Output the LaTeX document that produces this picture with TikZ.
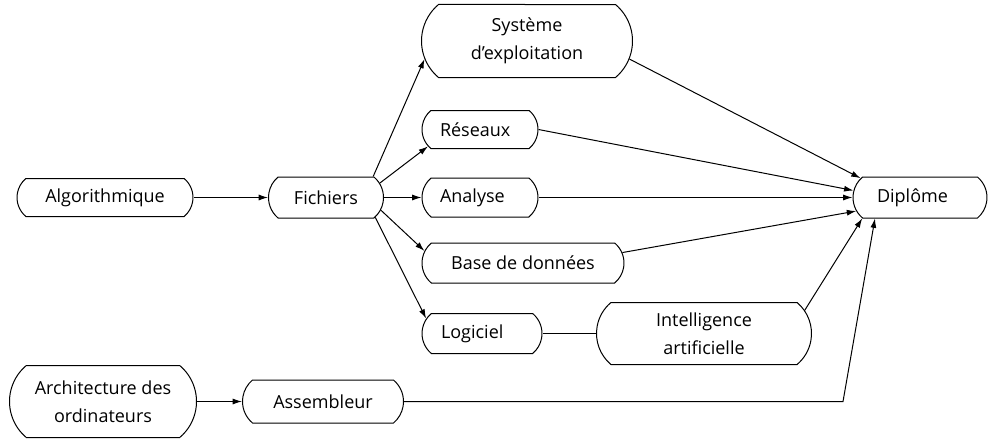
\documentclass[tikz,border=0pt]{standalone}
\usepackage{fontspec}
\setmainfont{Open Sans}
\usetikzlibrary{shapes.misc,arrows.meta,calc}
\begin{document}
\begin{tikzpicture}[x=0.75pt,y=0.75pt,
  box/.style={rounded rectangle, rounded rectangle arc length=100, draw, line width=0.75pt,
    inner xsep=0pt, inner ysep=0pt, font=\fontsize{13.5}{21}\selectfont, align=center},
  lbox/.style={box, align=left, text width=#1},
  arr/.style={line width=0.75pt,-{Latex[length=7pt,width=4.5pt]}},
  ln/.style={line width=0.75pt}]
\useasboundingbox (0,0) rectangle (988,-439);
\node[box, minimum width=132pt, minimum height=28.5pt] (alg) at (105,-197.5) {Algorithmique};
\node[box, minimum width=86.25pt, minimum height=30.75pt] (fich) at (326,-197.5) {Fichiers};
\node[box, minimum width=158.25pt, minimum height=54.75pt] (sys) at (527,-41) {Système\\d'exploitation};
\node[lbox=60pt, minimum width=87pt, minimum height=28.5pt] (res) at (480,-129.5) {Réseaux};
\node[lbox=60pt, minimum width=87pt, minimum height=29.25pt] (ana) at (480,-197.5) {Analyse};
\node[box, minimum width=151.5pt, minimum height=30pt] (bdd) at (523,-263) {Base de données};
\node[lbox=61.5pt, minimum width=90pt, minimum height=30pt] (log) at (482,-333.5) {Logiciel};
\node[box, minimum width=161.25pt, minimum height=46.5pt] (ia) at (704,-333.5) {Intelligence\\artificielle};
\node[lbox=64.5pt, minimum width=100.5pt, minimum height=30.75pt] (dip) at (920,-197.5) {Diplôme};
\node[box, minimum width=140.25pt, minimum height=54pt] (arch) at (103,-401.5) {Architecture des\\ordinateurs};
\node[box, minimum width=120.75pt, minimum height=32.25pt] (asm) at (323,-401.5) {Assembleur};
\coordinate (bend) at (843,-401.5);

\draw[arr] (alg.east) -- (fich.west);
\draw[arr] (fich.24) -- (sys.190);
\draw[arr] (fich.15) -- (res.198);
\draw[arr] (fich.east) -- (ana.west);
\draw[arr] (fich.-13) -- (bdd.173);
\draw[arr] (fich.-22) -- (log.165);
\draw[arr] (sys.-10) -- (dip.162);
\draw[arr] (res.east) -- (dip.174);
\draw[arr] (ana.east) -- (dip.west);
\draw[arr] (bdd.6) -- (dip.192);
\draw[ln] (log.east) -- (ia.west);
\draw[arr] (ia.13) -- (dip.200);
\draw[arr] (arch.east) -- (asm.west);
\draw[arr] (asm.east) -- (bend) -- (dip.205);
\end{tikzpicture}
\end{document}
